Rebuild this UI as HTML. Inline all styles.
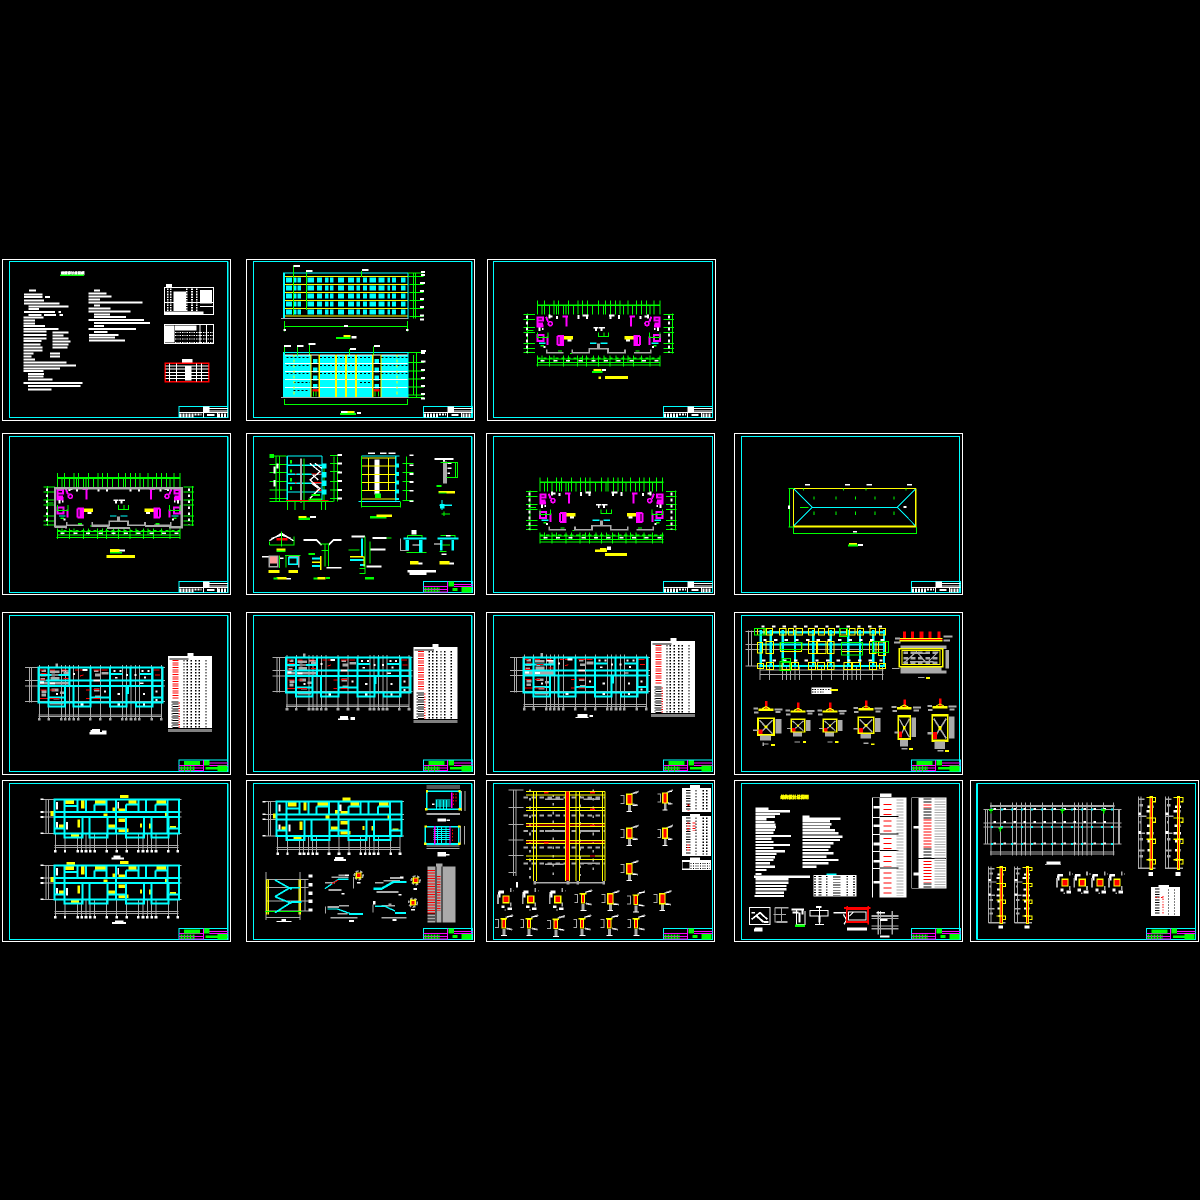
<!DOCTYPE html>
<html><head><meta charset="utf-8"><title>CAD drawing sheets</title>
<style>
html,body{margin:0;padding:0;background:#000}
svg{display:block;shape-rendering:crispEdges;font-family:"Liberation Sans","Noto Sans CJK SC",sans-serif}
path,circle{fill:none}
.W{stroke:#fff}.C{stroke:#0ff}.G{stroke:#0f0}.Y{stroke:#ff0}.M{stroke:#f0f}.R{stroke:#f00}.K{stroke:#aaa}.B{stroke:#000}
</style></head><body>
<svg width="1200" height="1200" viewBox="0 0 1200 1200" xmlns="http://www.w3.org/2000/svg">
<rect width="1200" height="1200" fill="#000"/>
<defs>
<g id="tb">
<rect x="0" y="0" width="147" height="34" fill="none" stroke="#0ff" stroke-width="3"/>
<rect x="72" y="1" width="20" height="18" fill="#fff"/>
<path class="W" stroke-width="3" d="M92 7H147M92 14H147M0 19H147M73 19V34M115 19V34"/>
<path class="W" stroke-width="6" stroke-dasharray="6 3" d="M2 25H68M2 31H45M117 25H145M117 31H145"/>
<rect x="84" y="23" width="22" height="6" fill="#fff"/>
</g>
<g id="tb2">
<rect x="0" y="0" width="147" height="34" fill="none" stroke="#0ff" stroke-width="3"/>
<path class="M" stroke-width="3" d="M92 9H147M92 16H147M0 16H72M0 24H72M0 32H72M73 0V34"/>
<rect x="75" y="1" width="17" height="15" fill="#0f0"/>
<rect x="15" y="3" width="48" height="12" fill="#0f0"/>
<path class="G" stroke-width="6" stroke-dasharray="6 3" d="M4 22H50M4 29H50"/>
<path class="G" stroke-width="3" d="M16 18V34M34 18V34"/>
<rect x="80" y="21" width="65" height="8" fill="#0f0"/>
<rect x="115" y="17" width="29" height="17" fill="#0f0"/>
</g>
<g id="tb3">
<rect x="0" y="0" width="147" height="34" fill="none" stroke="#0ff" stroke-width="3"/>
<path class="M" stroke-width="3" d="M92 9H147M92 16H147M0 16H72M0 24H72M0 32H72M73 0V34"/>
<rect x="75" y="1" width="17" height="15" fill="#0f0"/>
<path class="G" stroke-width="6" stroke-dasharray="6 3" d="M4 22H50M4 29H50"/>
<rect x="88" y="20" width="15" height="9" fill="#0f0"/>
<rect x="115" y="17" width="29" height="17" fill="#0f0"/>
</g>

<!-- floor plan half -->
<g id="half">
<path class="M" stroke-width="6" d="M173 187H189V197H173ZM173 206H189M173 187V215H190M198 185L204 200M172 240H190V258H172Z"/>
<rect x="172" y="208" width="18" height="7" fill="#f0f"/>
<circle class="M" stroke-width="5" cx="211" cy="206" r="6"/>
<path class="M" stroke-width="6" d="M247 184H264M259 186V215M232 243H240M232 270H240M232 243V270M203 245V270"/>
<rect x="238" y="240" width="14" height="33" fill="#f0f"/>
<rect x="252" y="243" width="27" height="10" fill="#ff0"/>
<path class="W" stroke-width="6" d="M205 184H218M208 178V190M231 183V192M295 180V192M308 182H325M321 182V192M178 217V228M186 222H190"/>
<path class="C" stroke-width="4" d="M177 265H197M330 265H350"/>
<path class="G" stroke-width="4" d="M182 272H192M234 288H246"/>
<path class="G" stroke-width="3" d="M172 232V248H204V232M187 244H190"/>
<path class="K" stroke-width="5" d="M200 283V293H250M277 283V293H328V281H354V266"/>
<path class="W" stroke-width="5" d="M340 218H355M348 218V228"/>
<path class="W" stroke-width="6" d="M262 256H274M190 276H196"/>
</g>
<g id="plan">
<path class="G" stroke-width="5" d="M172 151H542"/>
<path class="G" stroke-width="3" d="M172 136V178M186 150V178M194 136V178M208 150V178M222 136V178M230 150V178M236 136V178M250 150V178M258 150V178M266 136V178M280 150V178M294 136V178M308 136V178M322 136V178M338 150V178M356 136V178M370 150V178M376 136V178M392 136V178M406 136V178M420 136V178M430 150V178M444 136V178M458 150V178M470 136V178M484 136V178M500 136V178M510 150V178M522 136V178M540 136V178"/>
<path class="G" stroke-width="3" d="M130 178H165M130 193H165M130 217H165M130 232H165M130 265H165M130 280H165M130 292H165M142 175V295M550 178H582M550 193H582M550 217H582M550 232H582M550 265H582M550 280H582M550 292H582M578 175V295"/>
<path class="W" stroke-width="6" stroke-dasharray="8 10" d="M141 182V292M567 182V292"/>
<path class="G" stroke-width="3" d="M140 226H160M172 312H542M172 322H542M170 330H542"/>
<path class="G" stroke-width="5" stroke-dasharray="10 8" d="M172 310H542"/>
<path class="G" stroke-width="3" d="M172 302V334M186 302V322M208 302V334M222 302V322M250 302V334M266 302V322M292 302V334M308 302V322M320 302V334M340 302V322M356 302V334M372 302V322M390 302V334M408 302V322M430 302V334M444 302V322M460 302V334M484 302V322M510 302V334M540 302V334"/>
<path class="W" stroke-width="5" stroke-dasharray="12 26" d="M182 317H540"/>
<use href="#half"/>
<use href="#half" transform="translate(712,0) scale(-1,1)"/>
<path class="W" stroke-width="5" d="M358 218H375M365 218V228"/>
<path class="G" stroke-width="3" d="M355 232V245H386V232M372 232V245"/>
<path class="G" stroke-width="3" d="M270 295H276"/>
</g>

<!-- structural plan -->
<g id="sp">
<path class="K" stroke-width="3" d="M75 173H495M75 212H495M75 228H495M75 275H495M88 173V278M95 173V278M115 315H485M115 320H485"/>
<path class="K" stroke-width="3" d="M118 165V325M146 165V325M184 165V325M196 165V325M208 165V325M221 165V325M235 165V325M271 165V325M301 165V325M331 165V325M367 165V325M379 165V325M393 165V325M406 165V325M418 165V325M455 165V325M484 165V325"/>
<path class="K" stroke-width="8" stroke-dasharray="8 4" d="M114 328H122M142 328H150M180 328H188M192 328H200M204 328H212M217 328H225M231 328H239M267 328H275M297 328H305M327 328H335M363 328H371M375 328H383M389 328H397M402 328H410M414 328H422M451 328H459M480 328H488"/>
<path class="K" stroke-width="8" d="M122 195H140M125 245H140M150 185H178M152 205H178M190 190H205M285 195H300M305 190H325M160 265H178M285 260H300M180 248H195M150 280H190M170 160V172M120 220H205M125 182H138M122 208H135M125 255H138M155 240H175M282 182H295M282 240H298M155 195H165"/>
<path class="C" stroke-width="6" d="M115 173H488V278H115ZM115 212H392M115 228H488M392 212H488M145 173V290H195V228M208 173V228M272 173V290H220V228M330 173V290H380V228M392 173V228M458 173V290H408V278M115 195H205M145 262H195M272 262H330M458 262H488M330 192H368M418 192H458"/>
<path class="C" stroke-width="8" d="M383 228V252"/>
<path class="R" stroke-width="3" d="M120 180H130M125 190H140M120 210H138M150 180H165M155 195H175M186 180H200M190 205H205M240 180H260M225 180H235M240 198L250 195M280 180H300M305 180H322M460 180H478M465 195H480M122 240H140M120 265H142M150 240H165M150 265H178M258 240H270M258 265H268M280 238H298M280 265H300"/>
<path class="W" stroke-width="6" d="M219 192H225M248 180H262M340 183H346M358 183H364M378 195H384M403 195H409M425 183H431M442 183H448M432 202H438M168 252H174M312 245H318M352 252H360M429 252H435M467 245H473M467 270H473M352 283H360M429 283H435M242 283H250M280 212H300M120 218H132M150 220H165"/>
<path class="W" stroke-width="4" d="M420 220H430M345 203H352M185 183H205"/>
</g>
<g id="tbl">
<rect x="0" y="0" width="132" height="228" fill="#fff"/>
<path class="B" stroke-width="4" d="M4 9H62M0 225H132M0 218H132"/>
<path class="R" stroke-width="18" stroke-dasharray="3 4" d="M23 12V128"/>
<path class="B" stroke-width="18" stroke-dasharray="3 4" d="M23 136V220"/>
<path class="R" stroke-width="4" stroke-dasharray="3 5" d="M34 140V220"/>
<path class="B" stroke-width="4" stroke-dasharray="4 5" d="M48 12V220M58 12V220M70 12V220M83 12V220M94 12V220M114 12V220M12 136V220"/>
<rect x="58" y="-9" width="18" height="10" fill="#fff"/>
</g>

<!-- beam plan -->
<g id="bp">
<path class="K" stroke-width="3" d="M125 70H545M125 108H545M125 123H545M125 173H545M138 70V173M145 70V173M163 208H535M163 214H535"/>
<path class="K" stroke-width="3" d="M166 173V222M195 173V222M232 173V222M244 173V222M258 173V222M270 173V222M283 173V222M320 173V222M350 173V222M380 173V222M415 173V222M429 173V222M442 173V222M455 173V222M468 173V222M505 173V222M533 173V222"/>
<path class="W" stroke-width="7" d="M162 226H170M192 226H198M229 226H237M241 226H249M254 226H262M267 226H275M280 226H288M316 226H324M346 226H354M376 226H384M411 226H419M425 226H433M438 226H446M451 226H459M464 226H472M501 226H509M529 226H537"/>
<path class="W" stroke-width="5" d="M121 70H130M121 108H130M121 123H130M121 172H130"/>
<g fill="#ff0">
<rect x="197" y="72" width="25" height="12"/><rect x="243" y="72" width="10" height="25"/><rect x="285" y="72" width="35" height="11"/><rect x="360" y="57" width="25" height="9"/><rect x="355" y="98" width="24" height="10"/><rect x="355" y="128" width="25" height="10"/><rect x="355" y="158" width="30" height="10"/><rect x="177" y="145" width="15" height="10"/><rect x="232" y="130" width="8" height="25"/><rect x="326" y="145" width="22" height="10"/><rect x="213" y="175" width="24" height="8"/><rect x="420" y="143" width="6" height="12"/><rect x="447" y="143" width="6" height="14"/><rect x="510" y="150" width="18" height="7"/><rect x="152" y="105" width="10" height="15"/><rect x="470" y="72" width="28" height="12"/><rect x="385" y="73" width="25" height="10"/><rect x="338" y="95" width="8" height="12"/><rect x="495" y="110" width="10" height="12"/><rect x="310" y="112" width="12" height="8"/>
</g>
<g fill="#fff"><rect x="168" y="78" width="6" height="22"/><rect x="168" y="138" width="6" height="22"/><rect x="198" y="138" width="6" height="22"/><rect x="352" y="78" width="5" height="20"/></g>
<path class="C" stroke-width="6" d="M163 70H537V173H163ZM163 108H537M163 123H537M193 70V185H247V123M232 70V108M258 70V108M193 90H232M283 85H320M283 85V108M320 70V108M268 123V185H322V123M348 70V173M378 85H415M378 85V108M415 70V108M438 70V108M378 123V185H432V123M467 85H500M467 85V108M455 123V185H505V123M503 70V173M163 157H193M505 157H537M322 157H378"/>
</g>

<!-- column detail -->
<g id="cd">
<path class="K" stroke-width="3" d="M-26 -12H-16V12H-26"/>
<path class="K" stroke-width="5" d="M6 -16L28 -24M8 14L26 18"/>
<rect x="-4" y="16" width="9" height="20" fill="#aaa"/>
<path class="W" stroke-width="3" d="M12 -18L24 -20M10 18H22M-8 36H8"/>
<rect x="-8" y="-15" width="16" height="30" fill="#f00" stroke="#ff0" stroke-width="4"/>
</g>
<g id="cd2">
<path class="K" stroke-width="3" d="M-26 -12H-16V12H-26"/>
<path class="K" stroke-width="5" d="M6 -18L28 -26M8 14L26 18"/>
<rect x="-4" y="16" width="9" height="20" fill="#aaa"/>
<path class="W" stroke-width="3" d="M10 -22H26M10 16H22M-8 36H10"/>
<rect x="-5" y="-13" width="10" height="26" fill="#f00" stroke="#ff0" stroke-width="3"/>
<rect x="-10" y="-17" width="20" height="4" fill="#ff0"/>
</g>
<g id="cd3">
<path class="W" stroke-width="8" d="M-22 -22H-6M-20 -22V-6M-14 22H-4M4 28H18"/>
<path class="K" stroke-width="5" d="M-24 -14V14M14 -22V-34M22 -26H24M-2 30V34M14 10V22"/>
<rect x="-9" y="-10" width="18" height="20" fill="#f00" stroke="#ff0" stroke-width="4"/>
</g>

<!-- footing top / plan -->
<g id="ftt">
<path class="K" stroke-width="6" d="M-38 -4H-24M26 -2H50M-36 8H-22M28 6H44"/>
<rect x="-3" y="-27" width="8" height="23" fill="#f00"/>
<rect x="-22" y="-4" width="44" height="7" fill="#ff0"/>
<path class="Y" stroke-width="3" d="M-12 -4L0 -10L12 -4"/>
</g>
<g id="ftb">
<rect x="-22" y="-24" width="44" height="48" fill="none" stroke="#ff0" stroke-width="5"/>
<rect x="26" y="-22" width="16" height="42" fill="#aaa"/>
<rect x="-16" y="26" width="30" height="14" fill="#aaa"/>
<path class="K" stroke-width="4" d="M-18 -18L18 20M18 -18L-18 20M-36 10H-22"/>
<rect x="-20" y="8" width="11" height="13" fill="#f00"/>
<rect x="-4" y="-4" width="8" height="8" fill="#ff0"/>
</g>

<!-- long column -->
<g id="lc">
<path class="K" stroke-width="3" d="M-38 0V168H14M-30 0V168"/>
<path class="K" stroke-width="4" d="M-38 6H-20M-38 46H-14M-38 86H-18M-38 126H-20M-38 168H14"/>
<path class="K" stroke-width="6" d="M-34 20H-24M-34 60H-28M-34 100H-24M-34 140H-24"/>
<path class="W" stroke-width="6" d="M-10 24H8M-14 34H6M-12 68H6M-14 86H8M-10 104H6M-10 126H6M-8 148H6M-38 40H-30M-38 84H-30"/>
<rect x="-3" y="0" width="7" height="170" fill="#f00" stroke="#ff0" stroke-width="3"/>
<path class="Y" stroke-width="3" d="M-14 2H14V12H6M-14 50H14V60H6M-14 100H14V110H6M-14 148H14V158H6"/>
<rect x="-8" y="176" width="14" height="10" fill="#fff"/>
</g>
</defs>

<!-- ================= Crop 1: sheets 1,2 ================= -->
<g transform="translate(0,255) scale(.33333)">
<rect x="7" y="14" width="684" height="482" fill="none" stroke="#fff" stroke-width="3"/>
<path class="C" stroke-width="3" d="M28 20H683V488H28Z"/><path class="C" stroke-width="5" d="M683 20V488"/>
<use href="#tb" x="537" y="454"/>
<text x="183" y="59" font-size="10" fill="#fff" stroke="#fff" stroke-width="2">建筑设计总说明</text>
<path class="G" stroke-width="4" d="M180 61H252"/>
<path class="W" stroke-width="6" d="M87 107H108M72 118H128M72 126H128M135 126H150M72 136H132M72 145H178M85 154H205M85 162H117M72 171H165M175 171H183M85 180H125M132 180H168M178 180H189M70 188H130M70 197H105M70 205H105M70 213H135M70 222H175M70 230H140M157 232H205M70 240H140M157 241H190M70 250H140M157 250H205M70 258H125M157 259H212M70 268H122M157 268H205M70 277H128M157 277H203M70 286H128M70 296H100M150 296H180M70 304H95M150 304H180M70 313H105M70 322H200M70 331H228M70 340H180M70 348H130M84 357H132M84 365H130M84 374H158M70 384H248M84 393H242M84 403H155"/>
<path class="W" stroke-width="6" d="M282 106H300M265 115H320M265 125H335M265 134H300M265 143H428M282 152H300M265 160H332M265 170H392M282 178H330M282 186H378M265 195H432M282 204H450M282 213H312M265 222H408M282 231H323M267 240H356M267 248H345M267 257H375"/>
<rect x="498" y="87" width="18" height="10" fill="#fff"/>
<rect x="493" y="97" width="148" height="82" fill="#000" stroke="#fff" stroke-width="3"/>
<path class="W" stroke-width="5" stroke-dasharray="5 3" d="M503 100V168M512 100V168M560 100V168M576 100V168M590 100V168"/>
<rect x="520" y="110" width="38" height="58" fill="#fff"/><rect x="600" y="105" width="36" height="40" fill="#fff"/>
<rect x="493" y="170" width="118" height="8" fill="#fff"/>
<path class="W" stroke-width="3" d="M493 143H641M600 155H641"/>
<rect x="493" y="208" width="148" height="58" fill="#000" stroke="#fff" stroke-width="3"/>
<rect x="495" y="212" width="28" height="50" fill="#fff"/>
<rect x="525" y="212" width="65" height="14" fill="#fff"/>
<path class="W" stroke-width="3" stroke-dasharray="4 3" d="M525 232H641M525 242H641M525 252H641M525 262H641"/>
<path class="W" stroke-width="3" d="M600 208V266M620 208V266"/>
<rect x="546" y="312" width="32" height="12" fill="#fff"/>
<rect x="496" y="325" width="130" height="55" fill="#000" stroke="#f00" stroke-width="4"/>
<path class="W" stroke-width="3" d="M497 333H625M497 342H625M497 352H625M497 361H625M497 371H625M508 325V380M530 325V380M590 325V380M605 325V380"/>
<rect x="555" y="335" width="20" height="42" fill="#fff"/>

<rect x="739" y="14" width="684" height="482" fill="none" stroke="#fff" stroke-width="3"/>
<path class="C" stroke-width="3" d="M760 20H1415V488H760Z"/><path class="C" stroke-width="5" d="M1415 20V488"/>
<use href="#tb" x="1270" y="454"/>
<!-- upper elevation -->
<g id="erow"><g fill="#0ff"><rect x="858" y="67" width="18" height="15"/><rect x="880" y="67" width="10" height="15"/><rect x="893" y="67" width="10" height="15"/><rect x="922" y="67" width="20" height="15"/><rect x="951" y="67" width="15" height="15"/><rect x="975" y="67" width="10" height="15"/><rect x="990" y="67" width="10" height="15"/><rect x="1014" y="67" width="18" height="15"/><rect x="1044" y="67" width="18" height="15"/><rect x="1070" y="67" width="10" height="15"/><rect x="1089" y="67" width="12" height="15"/><rect x="1108" y="67" width="20" height="15"/><rect x="1135" y="67" width="18" height="15"/><rect x="1162" y="67" width="8" height="15"/><rect x="1176" y="67" width="12" height="15"/><rect x="1203" y="67" width="14" height="15"/></g></g>
<use href="#erow" y="24"/><use href="#erow" y="48"/><use href="#erow" y="72"/><use href="#erow" y="96"/>
<path class="Y" stroke-width="3" d="M855 64H1222M855 88H1222M855 112H1222M855 136H1222M855 160H1222M855 183H1222"/>
<path class="C" stroke-width="3" d="M850 54H1224V190H850Z"/><path class="C" stroke-width="5" d="M852 54V190"/>
<path class="K" stroke-width="3" d="M843 190H1224"/>
<path class="G" stroke-width="3" d="M1224 54H1270M1224 64H1270M1228 88H1270M1228 112H1270M1228 136H1270M1228 160H1270M1228 184H1270M1240 54V190M1247 54V190M880 32V180M920 48V165M1084 48V66"/>
<path class="G" stroke-width="3" d="M853 198V230M853 214H1222M1222 198V230"/>
<path class="W" stroke-width="6" d="M880 33H900M918 48H938M1086 45H1106M1263 51H1275M1263 60H1275M1260 84H1275M1260 108H1272M1260 132H1272M1260 156H1272M1260 182H1272M1260 194H1272M1032 213H1044M850 225H858M1218 225H1226"/>
<rect x="1008" y="246" width="44" height="6" fill="#0f0"/><rect x="1030" y="240" width="22" height="6" fill="#ff0"/><rect x="1055" y="243" width="15" height="8" fill="#fff"/>
<!-- lower elevation -->
<rect x="855" y="298" width="367" height="128" fill="#0ff"/>
<rect x="935" y="298" width="22" height="128" fill="#000"/><rect x="1119" y="298" width="23" height="128" fill="#000"/>
<path class="C" stroke-width="14" stroke-dasharray="15 10" d="M946 312V400M1130 312V400"/>
<path class="W" stroke-width="3" d="M855 300H1222M855 325H1222M855 350H1222M855 373H1222M855 398H1222"/>
<path class="B" stroke-width="3" stroke-dasharray="6 6" d="M860 308H930M960 308H1110M1145 308H1222M860 332H930M960 332H1110M1145 332H1222M860 356H930M960 356H1110M1145 356H1222M880 382H930M1080 382H1110M880 406H925"/>
<path class="Y" stroke-width="4" d="M933 298V426M958 298V426M1118 298V426M1143 298V426"/>
<path class="Y" stroke-width="6" d="M1008 298V426M1038 298V426M1068 298V426"/>
<path class="Y" stroke-width="3" stroke-dasharray="8 8" d="M882 298V426M1191 298V426"/>
<path class="C" stroke-width="3" d="M850 292H1224V428H850Z"/><path class="C" stroke-width="5" d="M852 292V428"/>
<rect x="938" y="402" width="17" height="7" fill="#f00"/><rect x="1122" y="402" width="17" height="7" fill="#f00"/>
<path class="G" stroke-width="3" d="M940 410V424M948 410V424M1125 410V424M1135 410V424"/>
<path class="K" stroke-width="3" d="M843 428H1224"/>
<path class="G" stroke-width="3" d="M1226 292H1275M1226 323H1272M1226 348H1272M1226 372H1272M1226 396H1272M1226 420H1272M1226 428H1272M1240 300V420M1250 292V428M853 274V292M892 274V302M928 266V298M1048 282V298M1120 274V298M853 432V448H1222V432"/>
<path class="W" stroke-width="6" d="M852 273H873M891 273H911M925 267H947M1050 282H1068M1122 273H1140M1263 288H1278M1263 294H1275M1263 319H1276M1263 345H1275M1263 369H1275M1263 393H1275M1263 417H1275M1263 431H1275"/>
<rect x="1020" y="474" width="48" height="6" fill="#0f0"/><rect x="1023" y="468" width="40" height="6" fill="#fff"/><rect x="1042" y="468" width="20" height="6" fill="#ff0"/><rect x="1071" y="471" width="12" height="6" fill="#fff"/>
</g>

<!-- ================= Crop 2: sheets 3,6,7 ================= -->
<g transform="translate(480,255) scale(.33333)">
<rect x="22" y="14" width="684" height="482" fill="none" stroke="#fff" stroke-width="3"/>
<path class="C" stroke-width="3" d="M40 20H697V488H40Z"/>
<use href="#tb" x="550" y="454"/>
<use href="#plan"/>
<rect x="340" y="342" width="25" height="6" fill="#ff0"/><rect x="336" y="348" width="32" height="6" fill="#0f0"/><rect x="366" y="342" width="12" height="6" fill="#fff"/>
<rect x="375" y="363" width="69" height="9" fill="#ff0"/><rect x="355" y="365" width="8" height="7" fill="#ff0"/>

<rect x="19" y="536" width="684" height="482" fill="none" stroke="#fff" stroke-width="3"/>
<path class="C" stroke-width="3" d="M40 545H697V1012H40Z"/>
<use href="#tb" x="550" y="979"/>
<use href="#plan" transform="translate(8,531)"/>
<rect x="360" y="879" width="20" height="5" fill="#ff0"/><rect x="345" y="883" width="36" height="8" fill="#ff0"/><rect x="381" y="874" width="12" height="11" fill="#fff"/>
<rect x="375" y="894" width="66" height="9" fill="#ff0"/>

<rect x="763" y="536" width="684" height="482" fill="none" stroke="#fff" stroke-width="3"/>
<path class="C" stroke-width="3" d="M784 545H1438V1012H784Z"/>
<use href="#tb" x="1294" y="979"/>
<path class="Y" stroke-width="3" d="M940 701H1308M941 700V816"/>
<path class="Y" stroke-width="5" d="M1307 700V816"/><path class="Y" stroke-width="6" d="M940 815H1310"/>
<path class="C" stroke-width="3" d="M997 757H1252M942 702L997 757L942 812M1306 702L1252 757L1306 812"/>
<path class="G" stroke-width="3" d="M925 700H942M925 816H942M928 700V816M940 816V836H1310V816M960 757H985"/>
<path class="G" stroke-width="3" d="M1002 724V734M1068 724V734M1127 724V734M1185 724V734M1242 724V734M1002 770V780M1068 770V780M1127 770V780M1185 770V780M1242 770V780M971 700V706M1091 700V706M1158 700V706M1278 700V706"/>
<path class="W" stroke-width="5" d="M975 689H990M1095 689H1110M1160 689H1176M1281 689H1296M1119 830H1131M1270 756H1280"/><path class="W" stroke-width="6" d="M927 752V762"/>
<rect x="1107" y="864" width="24" height="5" fill="#ff0"/><rect x="1104" y="869" width="30" height="5" fill="#0f0"/><rect x="1134" y="867" width="15" height="6" fill="#fff"/>
</g>

<!-- ================= Crop 3: sheets 4,5 ================= -->
<g transform="translate(0,430) scale(.33333)">
<rect x="7" y="11" width="684" height="483" fill="none" stroke="#fff" stroke-width="3"/>
<path class="C" stroke-width="3" d="M28 20H683V488H28Z"/><path class="C" stroke-width="5" d="M683 20V488"/>
<use href="#tb" x="537" y="454"/>
<use href="#plan" transform="translate(0,-7)"/>
<path class="K" stroke-width="7" d="M165 292V175H545V292H510V288H435M390 294H325V288H275M198 296V290H165"/>
<rect x="330" y="357" width="28" height="11" fill="#ff0"/><rect x="358" y="358" width="17" height="6" fill="#fff"/><rect x="330" y="366" width="36" height="4" fill="#0f0"/>
<rect x="320" y="375" width="85" height="9" fill="#ff0"/>

<rect x="739" y="11" width="684" height="483" fill="none" stroke="#fff" stroke-width="3"/>
<path class="C" stroke-width="3" d="M760 20H1415V488H760Z"/><path class="C" stroke-width="5" d="M1415 20V488"/>
<use href="#tb3" x="1270" y="454"/>
<!-- section left -->
<path class="G" stroke-width="3" d="M808 78H860M808 104H860M808 128H860M808 154H860M808 180H860M808 206H860M808 214H860M828 80V214M838 80V214M862 76V240M885 214V240M912 214V240M965 214V240M976 214V240M990 76H1020M990 100H1020M990 125H1020M990 155H1020M990 180H1020M990 205H1020M1002 80V214M1012 80V214M972 100V210"/>
<rect x="808" y="72" width="14" height="12" fill="#0f0"/>
<path class="W" stroke-width="6" d="M824 110V130M824 150V170M832 100V115M1012 75H1026M1012 100H1026M1012 127H1026M1012 153H1026M1012 180H1026M1012 206H1026"/>
<path class="C" stroke-width="4" d="M862 78H966M862 106H966M862 133H966M862 160H966M862 186H966M862 78V214M966 78V214"/>
<path class="C" stroke-width="14" stroke-dasharray="16 10" d="M972 100V200"/>
<path class="K" stroke-width="6" d="M903 85V218"/>
<path class="G" stroke-width="3" d="M862 214H1000M912 85V214"/>
<path class="R" stroke-width="3" d="M858 212H985"/>
<path class="R" stroke-width="4" d="M935 132H965M885 132H890M935 158H965M885 158H890M950 181H965"/>
<path class="W" stroke-width="4" d="M930 100L960 125L930 150L960 175L930 205M945 100L965 115M938 135L955 150M935 160L955 175"/>
<path class="G" stroke-width="6" d="M935 195H960M925 208H965"/>
<rect x="870" y="90" width="6" height="10" fill="#0f0"/><rect x="870" y="118" width="6" height="10" fill="#0f0"/><rect x="870" y="144" width="6" height="10" fill="#0f0"/><rect x="870" y="170" width="6" height="10" fill="#0f0"/>
<!-- section middle -->
<path class="C" stroke-width="4" d="M1084 78H1198M1187 78V212"/><path class="C" stroke-width="3" d="M1075 214H1200"/>
<path class="Y" stroke-width="3" d="M1086 84H1187M1086 108H1187M1086 133H1187M1086 157H1187M1086 182H1187M1086 207H1187M1105 84V182M1166 84V182"/>
<path class="G" stroke-width="3" d="M1084 78V232M1084 230H1202M1202 214V232M1220 80V212M1208 100H1240M1208 128H1240M1208 154H1240M1208 182H1240M1208 212H1240"/>
<rect x="1124" y="88" width="14" height="105" fill="#fff"/>
<path class="Y" stroke-width="3" d="M1124 108H1138M1124 133H1138M1124 157H1138M1124 182H1138"/>
<path class="C" stroke-width="10" stroke-dasharray="12 14" d="M1192 100V210"/>
<path class="W" stroke-width="5" d="M1104 70H1125M1140 70H1160M1165 70H1186M1228 76H1240M1228 106H1240M1228 132H1240M1228 156H1240M1228 182H1240M1228 214H1240"/>
<rect x="1125" y="190" width="18" height="14" fill="#0f0"/>
<rect x="1110" y="258" width="50" height="7" fill="#0f0"/><rect x="1130" y="254" width="46" height="7" fill="#ff0"/>
<rect x="895" y="263" width="35" height="7" fill="#0f0"/><rect x="895" y="258" width="25" height="6" fill="#ff0"/><rect x="930" y="258" width="18" height="6" fill="#fff"/>
<!-- right details -->
<path class="W" stroke-width="5" d="M1303 87H1360M1332 90V155M1342 100H1355M1342 115H1355M1342 130H1350"/>
<rect x="1329" y="95" width="12" height="65" fill="#aaa"/>
<path class="G" stroke-width="3" d="M1322 98H1372V142H1340M1366 98V142"/>
<path class="G" stroke-width="5" d="M1310 168H1325"/>
<rect x="1315" y="183" width="50" height="7" fill="#ff0"/><rect x="1315" y="187" width="25" height="4" fill="#0f0"/>
<path class="C" stroke-width="4" d="M1326 210V240M1318 226H1356"/><rect x="1320" y="222" width="14" height="14" fill="#0ff"/>
<path class="G" stroke-width="4" d="M1325 252H1350M1332 245V258"/>
<!-- lower details -->
<path class="W" stroke-width="4" d="M808 332L845 310L880 332M815 325L845 315L872 325"/>
<path class="R" stroke-width="7" d="M830 328H862"/>
<path class="G" stroke-width="3" d="M808 345H882V320M808 345V335M845 305V350"/>
<rect x="830" y="355" width="26" height="10" fill="#ff0"/><rect x="830" y="362" width="26" height="4" fill="#0f0"/>
<rect x="808" y="380" width="25" height="20" fill="#f99"/><path class="K" stroke-width="4" d="M808 378H833V410H808Z"/><path class="G" stroke-width="3" d="M838 376V414"/><path class="W" stroke-width="5" d="M786 380H805M840 385H850"/>
<rect x="805" y="420" width="34" height="9" fill="#ff0"/>
<path class="K" stroke-width="5" d="M865 378H896V412"/><rect x="866" y="383" width="26" height="20" fill="none" stroke="#0ff" stroke-width="4"/>
<path class="G" stroke-width="3" d="M855 376H902M858 376V412"/>
<rect x="866" y="420" width="28" height="9" fill="#ff0"/>
<rect x="830" y="441" width="30" height="8" fill="#ff0"/><path class="G" stroke-width="6" d="M820 446H832M940 446H958M1095 444H1122"/><path class="W" stroke-width="5" d="M860 446H873"/>
<rect x="952" y="441" width="25" height="8" fill="#ff0"/><rect x="978" y="441" width="12" height="6" fill="#0f0"/>
<path class="W" stroke-width="5" d="M910 330H950L965 345M985 345L1000 330H1025"/>
<path class="G" stroke-width="3" d="M960 342H985V410M975 342V410M964 362H986"/>
<path class="C" stroke-width="6" d="M936 386H965M936 408H965"/><path class="Y" stroke-width="5" d="M936 397H965M962 378V420"/>
<path class="W" stroke-width="5" d="M980 413H1024"/><path class="G" stroke-width="5" d="M925 372H945"/>
<path class="W" stroke-width="6" d="M1054 320H1095M1118 324H1160M1110 358H1157M1100 410H1145"/>
<path class="G" stroke-width="3" d="M1095 320V430M1110 335V400M1078 430H1096M1078 415H1096M1160 324H1175M1045 360H1078"/>
<path class="C" stroke-width="7" d="M1086 325V380"/><path class="C" stroke-width="6" d="M1050 390H1090M1080 405H1095"/><path class="Y" stroke-width="4" d="M1050 380H1090M1092 380V410"/>
<path class="G" stroke-width="7" d="M1095 445H1122"/>
<rect x="1234" y="300" width="16" height="13" fill="#fff"/>
<path class="G" stroke-width="3" d="M1222 316H1266V325M1222 316V325M1220 368H1280"/>
<path class="C" stroke-width="6" d="M1210 326H1280"/><path class="C" stroke-width="10" d="M1222 330V362M1262 330V368"/>
<path class="K" stroke-width="3" d="M1202 325V362H1225"/>
<rect x="1230" y="393" width="25" height="10" fill="#ff0"/><rect x="1256" y="398" width="12" height="5" fill="#fff"/>
<path class="W" stroke-width="4" d="M1238 345H1258"/>
<path class="G" stroke-width="3" d="M1322 317H1365V326M1318 365H1340M1320 345H1350"/>
<path class="C" stroke-width="6" d="M1312 326H1376"/><path class="C" stroke-width="7" d="M1324 330V362M1358 330V362"/>
<path class="W" stroke-width="4" d="M1302 342H1322M1325 373H1340M1338 317H1352"/>
<rect x="1318" y="393" width="30" height="10" fill="#ff0"/><rect x="1348" y="397" width="14" height="6" fill="#fff"/>
<rect x="1222" y="420" width="86" height="8" fill="#fff"/><rect x="1228" y="428" width="52" height="7" fill="#fff"/>
</g>

<!-- ================= Crop 4: sheets 8,9 ================= -->
<g transform="translate(0,610) scale(.33333)">
<rect x="7" y="8" width="684" height="486" fill="none" stroke="#fff" stroke-width="3"/>
<path class="C" stroke-width="3" d="M28 16H683V484H28Z"/><path class="C" stroke-width="5" d="M683 16V484"/>
<use href="#tb2" x="537" y="450"/>
<use href="#sp"/>
<use href="#tbl" x="504" y="138"/>
<path class="W" stroke-width="7" d="M272 364H300M268 370H320"/><path class="W" stroke-width="5" d="M276 360H300M306 364H320"/>

<rect x="739" y="8" width="684" height="486" fill="none" stroke="#fff" stroke-width="3"/>
<path class="C" stroke-width="3" d="M760 16H1415V484H760Z"/><path class="C" stroke-width="5" d="M1415 16V484"/>
<use href="#tb2" x="1270" y="450"/>
<use href="#sp" transform="translate(743,-30)"/>
<use href="#tbl" x="1240" y="111"/>
<rect x="1020" y="318" width="24" height="12" fill="#fff"/><rect x="1014" y="325" width="32" height="5" fill="#fff"/><rect x="1052" y="321" width="13" height="9" fill="#fff"/>
</g>

<!-- ================= Crop 5: sheets 10,11 ================= -->
<g transform="translate(480,610) scale(.33333)">
<rect x="19" y="8" width="684" height="486" fill="none" stroke="#fff" stroke-width="3"/>
<path class="C" stroke-width="3" d="M40 16H697V484H40Z"/>
<use href="#tb2" x="550" y="450"/>
<use href="#sp" transform="translate(15,-31)"/>
<use href="#tbl" x="513" y="93"/>
<rect x="292" y="312" width="30" height="12" fill="#fff"/><rect x="286" y="321" width="40" height="3" fill="#fff"/><rect x="328" y="315" width="11" height="6" fill="#fff"/>

<rect x="763" y="8" width="684" height="486" fill="none" stroke="#fff" stroke-width="3"/>
<path class="C" stroke-width="3" d="M784 16H1438V484H784Z"/>
<use href="#tb2" x="1294" y="450"/>
<path class="K" stroke-width="3" d="M797 64H1215M797 104H1215M797 118H1215M797 168H1215M805 62V170M815 62V170M840 180H1210M840 194H1210"/>
<path class="K" stroke-width="3" d="M840 168V210M868 168V210M907 168V210M920 168V210M932 168V210M945 168V210M958 168V210M994 168V210M1024 168V210M1054 168V210M1090 168V210M1103 168V210M1116 168V210M1129 168V210M1142 168V210M1178 168V210M1207 168V210"/>
<path class="C" stroke-width="6" d="M838 67H1215M838 103H1215M838 168H1215"/>
<path class="C" stroke-width="7" d="M842 60V170M872 60V170M908 60V170M945 60V170M1000 60V170M1052 60V170M1105 60V170M1140 60V170M1180 60V170M1212 60V170"/>
<path class="W" stroke-width="6" stroke-dasharray="10 22" d="M844 49H1222M850 90H1222M846 152H1222"/>
<g fill="none" stroke="#ff0" stroke-width="3">
<rect x="832" y="55" width="20" height="20"/><rect x="860" y="55" width="18" height="20"/><rect x="898" y="55" width="20" height="20"/><rect x="925" y="55" width="16" height="20"/><rect x="948" y="55" width="20" height="20"/><rect x="985" y="55" width="18" height="20"/><rect x="1015" y="55" width="18" height="20"/><rect x="1045" y="55" width="18" height="20"/><rect x="1080" y="55" width="20" height="20"/><rect x="1108" y="55" width="17" height="20"/><rect x="1132" y="55" width="18" height="20"/><rect x="1170" y="55" width="17" height="20"/><rect x="1198" y="55" width="18" height="20"/>
<rect x="832" y="97" width="16" height="32"/><rect x="858" y="95" width="22" height="36"/><rect x="902" y="97" width="62" height="28"/><rect x="985" y="94" width="24" height="36"/><rect x="1012" y="94" width="26" height="36"/><rect x="1042" y="94" width="20" height="36"/><rect x="1085" y="97" width="62" height="28"/><rect x="1168" y="94" width="20" height="36"/><rect x="1196" y="96" width="20" height="40"/>
<rect x="832" y="160" width="18" height="16"/><rect x="860" y="157" width="20" height="22"/><rect x="906" y="157" width="24" height="22"/><rect x="934" y="157" width="22" height="22"/><rect x="985" y="157" width="22" height="22"/><rect x="1012" y="157" width="22" height="22"/><rect x="1042" y="157" width="20" height="22"/><rect x="1092" y="157" width="22" height="22"/><rect x="1118" y="157" width="24" height="22"/><rect x="1168" y="157" width="22" height="22"/><rect x="1198" y="160" width="18" height="16"/>
</g>
<g fill="none" stroke="#0f0" stroke-width="3"><rect x="823" y="55" width="34" height="20"/><rect x="1078" y="55" width="24" height="24"/><rect x="900" y="155" width="32" height="26"/><rect x="906" y="145" width="26" height="12"/><rect x="1084" y="97" width="64" height="38"/><rect x="1178" y="94" width="48" height="34"/><rect x="900" y="97" width="66" height="22"/></g>
<rect x="994" y="232" width="60" height="20" fill="#fff"/>
<path class="B" stroke-width="3" stroke-dasharray="4 4" d="M996 238H1052M996 246H1030"/>
<rect x="1052" y="237" width="22" height="6" fill="#ff0"/>
<!-- right upper footing -->
<rect x="1269" y="64" width="9" height="22" fill="#f00"/><rect x="1293" y="64" width="9" height="22" fill="#f00"/><rect x="1319" y="64" width="11" height="22" fill="#f00"/><rect x="1346" y="64" width="9" height="22" fill="#f00"/><rect x="1372" y="64" width="9" height="22" fill="#f00"/>
<rect x="1258" y="84" width="130" height="10" fill="#ff0"/><path class="R" stroke-width="3" d="M1258 89H1388"/>
<path class="K" stroke-width="6" d="M1245 85H1260M1390 80H1418M1242 97H1262M1390 92H1410"/>
<path class="K" stroke-width="10" d="M1262 112H1400M1262 186H1400M1262 176H1385M1402 120V175"/>
<path class="K" stroke-width="8" stroke-dasharray="14 8" d="M1270 128H1380M1270 145H1380M1270 158H1380"/>
<rect x="1258" y="116" width="130" height="54" fill="none" stroke="#ff0" stroke-width="4"/>
<rect x="1266" y="122" width="114" height="42" fill="none" stroke="#ff0" stroke-width="3"/>
<path class="K" stroke-width="4" d="M1270 160L1310 125L1340 160L1375 125M1300 130H1350M1290 155H1360"/>
<path class="K" stroke-width="3" d="M1236 175H1258M1314 202H1334"/>
<rect x="1338" y="201" width="12" height="6" fill="#ff0"/>
<!-- six footings -->
<use href="#ftt" x="858" y="300"/><use href="#ftt" x="954" y="305"/><use href="#ftt" x="1050" y="305"/><use href="#ftt" x="1158" y="298"/><use href="#ftt" x="1273" y="295"/><use href="#ftt" x="1380" y="292"/>
<use href="#ftb" transform="translate(858,350) scale(1.09,1.04)"/>
<use href="#ftb" transform="translate(954,347) scale(.91,.8)"/>
<use href="#ftb" transform="translate(1050,347) scale(.91,.8)"/>
<use href="#ftb" transform="translate(1158,346) scale(1.05,1)"/>
<use href="#ftb" transform="translate(1273,353) scale(.82,1.42)"/>
<use href="#ftb" transform="translate(1380,354) scale(1.05,1.58)"/>
<path class="K" stroke-width="4" d="M850 402H866M850 398V408M944 396H960M1042 396H1058M1150 400H1166M1265 416H1282M1372 422H1390"/>
<g fill="#ff0"><rect x="873" y="402" width="12" height="6"/><rect x="969" y="393" width="9" height="6"/><rect x="1065" y="393" width="11" height="6"/><rect x="1173" y="400" width="11" height="5"/><rect x="1287" y="414" width="12" height="6"/><rect x="1395" y="420" width="12" height="6"/></g>
</g>

<!-- ================= Crop 6: sheets 12,13 ================= -->
<g transform="translate(0,776) scale(.33333)">
<rect x="7" y="14" width="684" height="482" fill="none" stroke="#fff" stroke-width="3"/>
<path class="C" stroke-width="3" d="M28 22H683V490H28Z"/><path class="C" stroke-width="5" d="M683 22V490"/>
<use href="#tb2" x="537" y="457"/>
<use href="#bp"/>
<use href="#bp" y="198"/>
<path class="W" stroke-width="6" d="M340 242H362M334 247H372"/><path class="W" stroke-width="5" d="M345 436H370M336 441H378"/>
<rect x="200" y="258" width="25" height="8" fill="#ff0"/>

<rect x="739" y="14" width="684" height="482" fill="none" stroke="#fff" stroke-width="3"/>
<path class="C" stroke-width="3" d="M760 22H1415V490H760Z"/><path class="C" stroke-width="5" d="M1415 22V490"/>
<use href="#tb3" x="1270" y="457"/>
<use href="#bp" transform="translate(667,7)"/>
<path class="W" stroke-width="6" d="M1005 246H1030M1002 252H1038"/>
<!-- stair plans -->
<path class="K" stroke-width="3" d="M1280 30H1380M1280 36H1380M1280 112H1380M1280 116H1380M1385 45V105M1395 45V105M1280 210H1378M1280 218H1378M1382 150V205M1394 150V205"/>
<rect x="1280" y="46" width="100" height="54" fill="none" stroke="#0ff" stroke-width="5"/>
<rect x="1276" y="152" width="100" height="52" fill="none" stroke="#0ff" stroke-width="5"/>
<path class="C" stroke-width="3" d="M1306 72H1352M1306 78H1352M1306 84H1352M1306 90H1352M1310 72V98M1320 72V98M1330 72V98M1340 72V98M1300 160H1350M1300 166H1350M1300 172H1350M1300 178H1350M1300 184H1350M1300 190H1350M1312 150V205M1325 150V205M1338 150V205"/>
<path class="M" stroke-width="4" d="M1355 50V96M1304 150V205M1350 150V205"/>
<path class="R" stroke-width="3" stroke-dasharray="5 5" d="M1360 52V90M1368 52V80M1358 160V200"/>
<path class="W" stroke-width="5" d="M1296 85H1304"/><rect x="1278" y="42" width="6" height="7" fill="#ff0"/><rect x="1376" y="42" width="6" height="7" fill="#ff0"/><rect x="1275" y="96" width="8" height="8" fill="#ff0"/><rect x="1376" y="96" width="8" height="8" fill="#ff0"/><rect x="1273" y="148" width="8" height="7" fill="#ff0"/><rect x="1374" y="148" width="7" height="7" fill="#ff0"/><rect x="1272" y="200" width="8" height="7" fill="#ff0"/><rect x="1374" y="200" width="7" height="7" fill="#ff0"/>
<rect x="1312" y="127" width="26" height="10" fill="#fff"/><rect x="1340" y="130" width="10" height="5" fill="#fff"/><rect x="1312" y="228" width="26" height="14" fill="#fff"/><rect x="1338" y="234" width="10" height="5" fill="#fff"/>
<!-- stair section -->
<path class="K" stroke-width="3" d="M798 288V432M900 288V432M800 310H925M800 335H925M800 375H925M800 405H925M800 424H900M915 310V405"/>
<path class="Y" stroke-width="4" d="M800 310V415M897 310V415"/>
<path class="Y" stroke-width="3" d="M806 310V415M902 310V415"/>
<path class="G" stroke-width="3" d="M795 406H905"/>
<path class="C" stroke-width="5" d="M825 410L875 378H905M825 362L870 335H900M825 312L875 340M825 362L875 382"/>
<path class="W" stroke-width="10" d="M926 300H938M926 326H938M926 352H938M926 376H938M926 402H938"/>
<path class="W" stroke-width="3" d="M830 437H875"/><path class="W" stroke-width="6" d="M845 432H858"/>
<!-- stair details -->
<g transform="translate(1025,318)"><path class="K" stroke-width="5" d="M-50 2H-20M-30 -14H20M-10 -20H20M-40 24H0"/><path class="C" stroke-width="4" d="M-50 20L-10 -8H20"/><path class="R" stroke-width="3" d="M-30 6L-10 -6"/><path class="W" stroke-width="5" d="M0 35H8M10 -20H22"/><path class="K" stroke-width="3" d="M35 -15V20"/></g>
<g transform="translate(1076,298)"><circle class="K" stroke-width="5" r="13" stroke-dasharray="8 5"/><rect x="-7" y="-7" width="14" height="14" fill="#f00" stroke="#ff0" stroke-width="4"/><path class="W" stroke-width="5" d="M-5 22H5"/></g>
<g transform="translate(1170,326)"><path class="K" stroke-width="5" d="M-45 -6H-20M-20 -12H30M0 -20H40M-40 22H25"/><path class="C" stroke-width="7" d="M-50 12H-25L10 -8H50"/><path class="W" stroke-width="5" d="M25 30H35M30 -22H40"/></g>
<g transform="translate(1247,313)"><circle class="K" stroke-width="5" r="13" stroke-dasharray="8 5"/><rect x="-7" y="-7" width="14" height="14" fill="#f00" stroke="#ff0" stroke-width="4"/><path class="W" stroke-width="5" d="M-6 26H4"/></g>
<g transform="translate(1032,405)"><path class="K" stroke-width="5" d="M-50 -12H-15M-15 -16H15M-40 20H40M-20 8H10"/><path class="C" stroke-width="4" d="M-50 -6H-20L20 8"/><path class="C" stroke-width="6" d="M15 9H57"/><path class="K" stroke-width="3" d="M-56 -14V8"/><path class="W" stroke-width="5" d="M15 30H30"/></g>
<g transform="translate(1165,405)"><path class="K" stroke-width="5" d="M-20 -16H20M0 -20H10M-20 20H55"/><path class="C" stroke-width="4" d="M-40 -14H-10L20 0"/><path class="C" stroke-width="6" d="M20 6H53"/><rect x="-46" y="-30" width="8" height="10" fill="#fff"/><path class="K" stroke-width="3" d="M-46 -20V5"/><path class="W" stroke-width="5" d="M12 27H25"/></g>
<g transform="translate(1239,380)"><circle class="K" stroke-width="5" r="13" stroke-dasharray="8 5"/><rect x="-7" y="-7" width="14" height="14" fill="#f00" stroke="#ff0" stroke-width="4"/><path class="W" stroke-width="5" d="M-6 21H6"/></g>
<!-- gray table -->
<rect x="1308" y="262" width="20" height="10" fill="#aaa"/>
<rect x="1282" y="271" width="85" height="169" fill="#aaa"/>
<path class="R" stroke-width="22" stroke-dasharray="3 5" d="M1294 282V412"/>
<path class="R" stroke-width="10" stroke-dasharray="3 5" d="M1316 300V405"/>
<path class="B" stroke-width="22" stroke-dasharray="3 6" d="M1294 412V438"/>
<path class="B" stroke-width="3" d="M1326 271V440M1308 271V440"/>
</g>

<!-- ================= Crop 7: sheets 14,15 ================= -->
<g transform="translate(480,776) scale(.33333)">
<rect x="19" y="14" width="684" height="482" fill="none" stroke="#fff" stroke-width="3"/>
<path class="C" stroke-width="3" d="M40 22H697V490H40Z"/>
<use href="#tb3" x="550" y="457"/>
<path class="K" stroke-width="3" d="M100 40V300M108 40V300M85 42H130M85 95H130M85 145H130M85 192H130M85 238H130M85 290H108"/>
<rect x="108" y="318" width="6" height="16" fill="#fff"/>
<path class="K" stroke-width="6" stroke-dasharray="14 10" d="M130 65H375M130 118H375M130 165H375M130 215H375M130 262H375"/>
<path class="K" stroke-width="5" stroke-dasharray="8 18" d="M150 40V310M220 55V300M300 60V300M340 40V300"/>
<path class="K" stroke-width="5" d="M162 320H372M195 70L250 70M310 70H360M195 165H250M310 165H360M195 265H250M310 262H360"/>
<path class="Y" stroke-width="3" d="M138 46H375M138 57H375M138 94H375M138 104H375M138 240H375M138 250H375"/>
<path class="Y" stroke-width="3" d="M138 142H375M138 151H375M138 193H375M138 203H375"/>
<path class="R" stroke-width="4" d="M138 147H375M138 198H375"/>
<path class="Y" stroke-width="3" d="M160 46V315M170 46V315M257 46V315M268 46V315M288 46V315M298 46V315M367 46V315M375 46V315"/>
<rect x="258" y="46" width="9" height="268" fill="#f00"/>
<path class="R" stroke-width="4" d="M192 50H205M330 50H345M330 100H345M330 148H345M192 200H205M330 240H345"/>
<path class="K" stroke-width="8" d="M164 315V326M264 315V326M293 315V326M371 315V326"/>
<use href="#cd" x="448" y="70"/><use href="#cd" transform="translate(555,66) scale(.85,1)"/><use href="#cd" x="448" y="172"/><use href="#cd" transform="translate(555,172) scale(.85,1)"/><use href="#cd" x="448" y="278"/>
<use href="#cd3" x="78" y="370"/><use href="#cd3" x="152" y="370"/><use href="#cd3" x="233" y="370"/>
<use href="#cd2" x="309" y="368"/><use href="#cd" x="391" y="368"/><use href="#cd2" x="467" y="372"/><use href="#cd" x="547" y="368"/>
<use href="#cd2" x="71" y="443"/><use href="#cd2" x="147" y="443"/><use href="#cd2" x="227" y="445"/><use href="#cd2" x="306" y="443"/><use href="#cd2" x="388" y="443"/><use href="#cd2" x="468" y="443"/>
<rect x="630" y="27" width="30" height="9" fill="#fff"/>
<rect x="606" y="36" width="87" height="72" fill="#fff"/>
<path class="B" stroke-width="14" stroke-dasharray="3 5" d="M625 42V104"/><path class="B" stroke-width="4" stroke-dasharray="4 5" d="M648 42V104M670 42V104M680 42V104"/><path class="R" stroke-width="6" stroke-dasharray="4 12" d="M625 86V104"/>
<rect x="630" y="114" width="30" height="7" fill="#fff"/>
<rect x="606" y="120" width="87" height="120" fill="#fff"/>
<path class="B" stroke-width="14" stroke-dasharray="3 5" d="M625 125V236"/><path class="B" stroke-width="4" stroke-dasharray="4 5" d="M648 125V236M670 125V236M680 125V236"/><path class="R" stroke-width="8" stroke-dasharray="3 5" d="M625 140V165M642 140V165M625 205V230"/>
<rect x="630" y="244" width="30" height="8" fill="#fff"/>
<rect x="606" y="252" width="87" height="30" fill="#fff"/>
<rect x="608" y="258" width="20" height="20" fill="#000"/><path class="B" stroke-width="3" stroke-dasharray="3 4" d="M632 262H690M632 270H690M632 277H690"/>

<rect x="763" y="14" width="684" height="482" fill="none" stroke="#fff" stroke-width="3"/>
<path class="C" stroke-width="3" d="M784 22H1438V490H784Z"/>
<use href="#tb3" x="1294" y="457"/>
<text x="902" y="67" font-size="12" fill="#ff0" stroke="#ff0" stroke-width="2.5">结构设计总说明</text>
<path class="W" stroke-width="7" d="M826 98H866M826 106H930M826 114H900M826 122H885M826 130H860M826 138H884M826 146H886M826 154H888M826 162H885M826 170H880M826 180H933M826 188H875M826 198H880M826 207H930M826 216H880M826 226H915M826 234H890M826 244H885M826 252H880M826 262H870M826 272H885M826 282H860M826 294H845M822 302H990M826 310H925M826 320H925M826 330H920M826 340H920M826 350H912M824 360H912"/>
<path class="W" stroke-width="7" d="M967 122H988M967 128H1082M967 136H1050M967 145H1055M967 154H1050M967 163H1065M967 172H1075M967 182H1088M967 192H1080M967 202H1060M967 212H1052M967 222H1045M967 232H1060M967 242H1040M967 252H1075M967 262H1045M967 272H1010"/>
<rect x="1040" y="292" width="30" height="5" fill="#0ff"/>
<rect x="1000" y="297" width="130" height="65" fill="#fff"/>
<path class="B" stroke-width="10" stroke-dasharray="3 5" d="M1020 300V360"/><path class="B" stroke-width="5" stroke-dasharray="3 5" d="M1005 300V360M1040 300V360M1102 300V360M1122 300V360"/><path class="B" stroke-width="22" stroke-dasharray="2 6" d="M1070 302V360"/>
<rect x="1200" y="52" width="34" height="11" fill="#fff"/>
<rect x="1177" y="64" width="103" height="301" fill="#fff"/>
<rect x="1178" y="66" width="21" height="298" fill="#000"/>
<path class="W" stroke-width="3" d="M1177 64V365M1178 124H1199M1178 176H1199M1178 226H1199M1178 278H1199"/>
<path class="B" stroke-width="3" d="M1200 122H1255M1200 174H1255M1200 224H1255M1200 276H1255"/>
<path class="R" stroke-width="24" stroke-dasharray="3 12" d="M1222 84V118M1222 134V170M1222 186V220M1222 240V272M1222 290V356"/>
<path class="K" stroke-width="22" stroke-dasharray="3 6" d="M1260 70V360"/>
<rect x="1180" y="90" width="18" height="8" fill="#fff"/><rect x="1180" y="145" width="18" height="8" fill="#fff"/><rect x="1180" y="200" width="18" height="8" fill="#fff"/><rect x="1180" y="252" width="18" height="8" fill="#fff"/><rect x="1180" y="315" width="18" height="8" fill="#fff"/>
<rect x="1294" y="64" width="106" height="274" fill="#fff"/>
<rect x="1296" y="66" width="20" height="270" fill="#000"/>
<path class="B" stroke-width="3" d="M1316 248H1398"/>
<path class="R" stroke-width="24" stroke-dasharray="3 6" d="M1342 86V96M1342 130V215M1342 255V320"/>
<path class="B" stroke-width="24" stroke-dasharray="3 6" d="M1342 68V84M1342 98V128M1342 218V248M1342 322V334"/>
<path class="K" stroke-width="34" stroke-dasharray="3 5" d="M1380 68V334"/>
<rect x="1300" y="150" width="15" height="8" fill="#fff"/><rect x="1300" y="290" width="15" height="8" fill="#fff"/>
<!-- bottom details -->
<path class="W" stroke-width="3" d="M808 395H870V445H808ZM808 395V445"/><path class="W" stroke-width="5" d="M815 430L840 410L862 430M815 410H825M850 438H865"/>
<path class="W" stroke-width="6" d="M828 418L850 438M825 458H848"/><rect x="822" y="458" width="26" height="9" fill="#fff"/>
<path class="K" stroke-width="3" d="M885 395V438H920M905 395V438M880 415H918"/><path class="K" stroke-width="5" d="M885 395H925M890 438H922"/>
<path class="W" stroke-width="6" d="M935 400H972M968 400V415M958 410V440M938 410H955"/><path class="W" stroke-width="3" d="M950 400V445H975V405"/><rect x="945" y="446" width="30" height="7" fill="#0f0"/>
<path class="W" stroke-width="3" d="M990 403H1044V420H990ZM1018 395V445M1005 445H1032"/><path class="W" stroke-width="6" d="M1008 393H1025M1018 420V440"/>
<path class="W" stroke-width="4" d="M1060 410H1098M1090 415L1100 432L1092 445"/>
<rect x="1100" y="400" width="63" height="38" fill="none" stroke="#f00" stroke-width="5"/><path class="R" stroke-width="5" d="M1092 396H1172M1165 390V445M1102 390V396"/><path class="W" stroke-width="3" d="M1105 408H1158V432H1105ZM1108 420L1120 408"/>
<rect x="1101" y="454" width="60" height="9" fill="#fff"/>
<path class="K" stroke-width="5" d="M1175 420H1255M1175 458H1255M1195 405V475M1237 405V475"/><path class="K" stroke-width="3" d="M1175 428H1255M1175 450H1255M1202 405V475"/><path class="W" stroke-width="5" d="M1190 410H1215M1200 432H1222"/><rect x="1200" y="478" width="28" height="6" fill="#fff"/>
</g>

<!-- ================= Crop 8: sheet 16 ================= -->
<g transform="translate(965,776) scale(.33333)">
<rect x="16" y="14" width="684" height="482" fill="none" stroke="#fff" stroke-width="3"/>
<path class="C" stroke-width="3" d="M36 22H691V490H36Z"/><path class="C" stroke-width="6" d="M36 22V490"/>
<use href="#tb2" x="544" y="457"/>
<path class="K" stroke-width="7" d="M75 90H448M462 100V205"/>
<path class="K" stroke-width="3" d="M55 101H470M55 141H470M55 153H470M55 204H470M75 234H448M62 100V205M68 100V205M75 228H448"/>
<path class="K" stroke-width="3" d="M78 80V238M106 80V238M142 80V238M155 80V238M169 80V238M182 80V238M196 80V238M232 80V238M262 80V238M292 80V238M328 80V238M340 80V238M353 80V238M366 80V238M380 80V238M416 80V238M446 80V238"/>
<path class="C" stroke-width="6" stroke-dasharray="6 24" d="M78 101H446M78 153H446"/>
<path class="W" stroke-width="6" stroke-dasharray="8 22" d="M85 99H446M85 138H446M85 202H446"/>
<path class="C" stroke-width="6" stroke-dasharray="6 24" d="M78 204H446"/>
<path class="G" stroke-width="5" d="M72 102H84M286 102H298M410 102H422M100 157H112"/>
<path class="G" stroke-width="4" d="M78 102V112M292 102V112M416 102V112M106 157V166"/>
<rect x="244" y="256" width="42" height="8" fill="#fff"/><path class="K" stroke-width="3" d="M240 266H288"/>
<use href="#lc" transform="translate(558,62) scale(1,1.28)"/>
<use href="#lc" transform="translate(640,62) scale(1,1.28)"/>
<use href="#lc" transform="translate(108,272)"/>
<use href="#lc" transform="translate(187,272)"/>
<use href="#cd3" x="300" y="320"/><use href="#cd3" x="352" y="320"/><use href="#cd3" x="405" y="320"/><use href="#cd3" x="456" y="320"/>
<rect x="580" y="327" width="32" height="8" fill="#fff"/>
<rect x="558" y="333" width="87" height="87" fill="#fff"/>
<path class="B" stroke-width="14" stroke-dasharray="3 5" d="M577 338V416"/>
<path class="R" stroke-width="3" stroke-dasharray="4 4" d="M594 360V412M572 364H594"/>
<path class="B" stroke-width="3" stroke-dasharray="3 6" d="M610 340V416M628 340V416"/>
</g>
</svg>
</body></html>
